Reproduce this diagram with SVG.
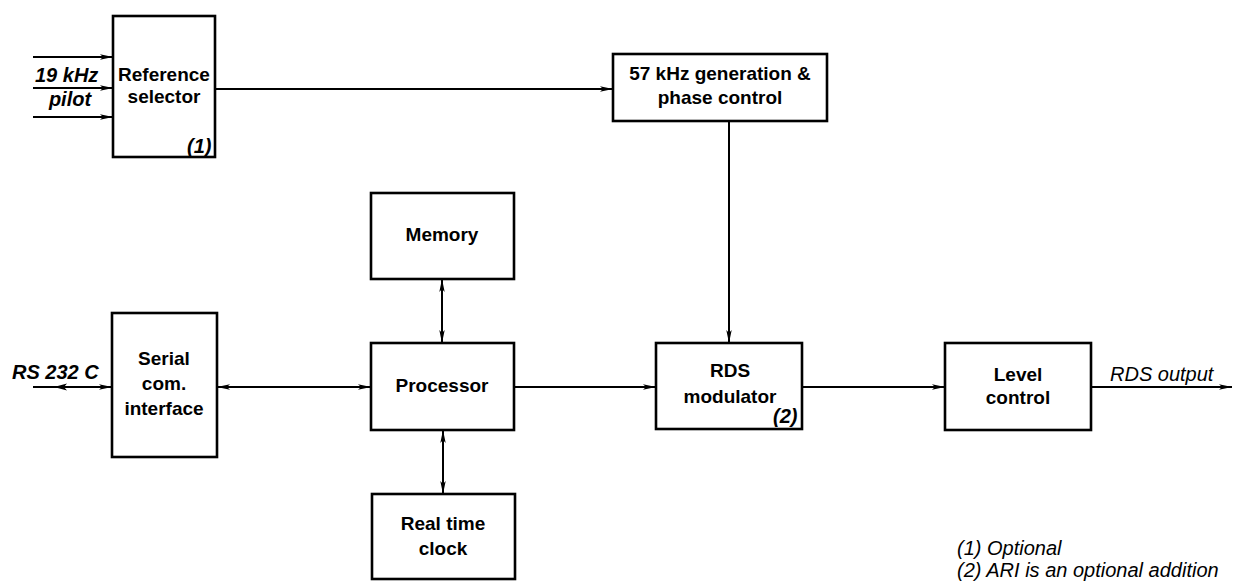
<svg xmlns="http://www.w3.org/2000/svg" width="1234" height="581" viewBox="0 0 1234 581">
<defs>
<marker id="ah" viewBox="0 0 13 7" refX="13" refY="3.5" markerWidth="13" markerHeight="7" markerUnits="userSpaceOnUse" orient="auto-start-reverse">
<path d="M0,0.8 L13,3.5 L0,6.2 L3,3.5 Z" fill="#000"/>
</marker>
</defs>
<style>
.box{fill:#fff;stroke:#000;stroke-width:2.6}
.ln{fill:none;stroke:#000;stroke-width:2}
.t{font-family:"Liberation Sans",Arial,sans-serif;font-size:19px;font-weight:bold;text-anchor:middle;fill:#000}
.i{font-family:"Liberation Sans",Arial,sans-serif;font-size:20px;font-style:italic;font-weight:bold;fill:#000}
.n{font-family:"Liberation Sans",Arial,sans-serif;font-size:20px;font-style:italic;fill:#000}
</style>
<rect width="1234" height="581" fill="#fff"/>
<g id="connectors">
<line class="ln" x1="33" y1="57" x2="113" y2="57" marker-end="url(#ah)"/>
<line class="ln" x1="33" y1="88" x2="113" y2="88" marker-end="url(#ah)"/>
<line class="ln" x1="33" y1="117" x2="113" y2="117" marker-end="url(#ah)"/>
<line class="ln" x1="215" y1="89" x2="613" y2="89" marker-end="url(#ah)"/>
<line class="ln" x1="729" y1="121" x2="729" y2="343" marker-end="url(#ah)"/>
<line class="ln" x1="33" y1="387" x2="112" y2="387" marker-end="url(#ah)"/>
<path d="M67,383.5 L54,387 L67,390.5 L64,387 Z" fill="#000"/>
<line class="ln" x1="217" y1="387" x2="371" y2="387" marker-start="url(#ah)" marker-end="url(#ah)"/>
<line class="ln" x1="442" y1="279" x2="442" y2="343" marker-start="url(#ah)" marker-end="url(#ah)"/>
<line class="ln" x1="443" y1="430" x2="443" y2="494" marker-start="url(#ah)" marker-end="url(#ah)"/>
<line class="ln" x1="514" y1="387" x2="656" y2="387" marker-end="url(#ah)"/>
<line class="ln" x1="802" y1="387" x2="945" y2="387" marker-end="url(#ah)"/>
<line class="ln" x1="1091" y1="387" x2="1232" y2="387" marker-end="url(#ah)"/>
</g>
<g id="labels">
<text class="i" x="35" y="82">19 kHz</text>
<text class="i" x="70" y="106" text-anchor="middle">pilot</text>
<text class="i" x="12" y="379">RS 232 C</text>
<text class="n" x="1110" y="381">RDS output</text>
<text class="n" x="957" y="555">(1) Optional</text>
<text class="n" x="957" y="577">(2) ARI is an optional addition</text>
</g>
<g id="ref-selector">
<rect class="box" x="113" y="16" width="102" height="141"/>
<text class="t" x="164" y="81">Reference</text>
<text class="t" x="164" y="103">selector</text>
<text class="i" x="187" y="153">(1)</text>
</g>
<g id="gen57">
<rect class="box" x="613" y="54" width="214" height="67"/>
<text class="t" x="720" y="80">57 kHz generation &amp;</text>
<text class="t" x="720" y="104">phase control</text>
</g>
<g id="serial">
<rect class="box" x="112" y="313" width="105" height="144"/>
<text class="t" x="164" y="365">Serial</text>
<text class="t" x="164" y="390">com.</text>
<text class="t" x="164" y="415">interface</text>
</g>
<g id="memory">
<rect class="box" x="371" y="193" width="143" height="86"/>
<text class="t" x="442" y="241">Memory</text>
</g>
<g id="processor">
<rect class="box" x="371" y="343" width="143" height="87"/>
<text class="t" x="442" y="392">Processor</text>
</g>
<g id="rtc">
<rect class="box" x="372" y="494" width="143" height="85"/>
<text class="t" x="443" y="530">Real time</text>
<text class="t" x="443" y="555">clock</text>
</g>
<g id="rds-mod">
<rect class="box" x="656" y="343" width="146" height="86"/>
<text class="t" x="730" y="377">RDS</text>
<text class="t" x="730" y="403">modulator</text>
<text class="i" x="773" y="423">(2)</text>
</g>
<g id="level">
<rect class="box" x="945" y="343" width="146" height="87"/>
<text class="t" x="1018" y="381">Level</text>
<text class="t" x="1018" y="404">control</text>
</g>
</svg>
